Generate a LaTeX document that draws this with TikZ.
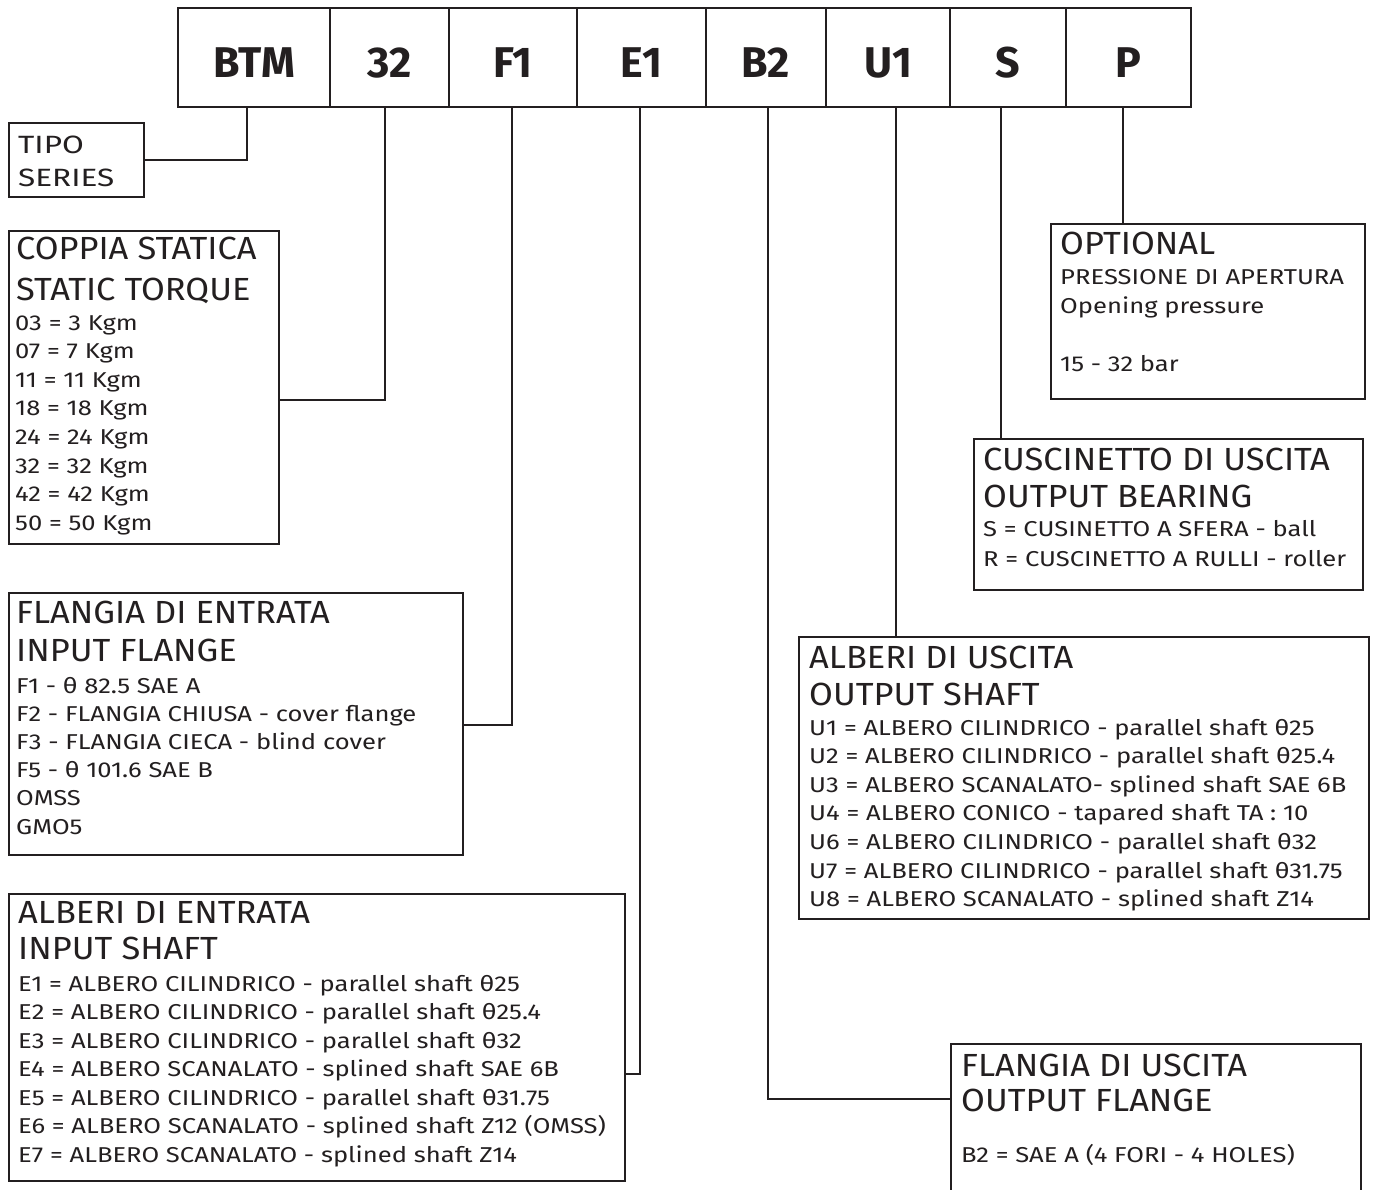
\documentclass[tikz,border=0pt]{standalone}
\usepackage{fontspec}
\usepackage{graphicx}
\setmainfont{Fira Sans}
\definecolor{ink}{HTML}{231F20}
\newcommand{\wideI}[1]{\scalebox{1.19}[1]{#1}}
\newcommand{\wideT}[1]{\scalebox{1.075}[1]{#1}}
\newcommand{\wideS}[1]{\scalebox{1.26}[1]{#1}}
\begin{document}
\begin{tikzpicture}[x=1pt,y=-1pt,
  box/.style={draw=ink, line width=2.2pt, inner sep=0pt, anchor=north west},
  topcell/.style={draw=ink, line width=2.6pt, inner sep=0pt, minimum height=99pt,
    text height=39pt, text depth=0pt, font=\fontsize{43}{43}\selectfont\bfseries, text=ink},
  wire/.style={draw=ink, line width=2pt},
  ttl/.style={anchor=base west, inner sep=0pt, text=ink, font=\fontsize{32}{32}\selectfont},
  itm/.style={anchor=base west, inner sep=0pt, text=ink, font=\fontsize{21.5}{21.5}\selectfont},
  tip/.style={anchor=base west, inner sep=0pt, text=ink, font=\fontsize{25}{25}\selectfont},
]
\useasboundingbox (0,0) rectangle (1376,1189);
\fill[white] (0,0) rectangle (1376,1189);

% top code cells
\node[topcell, minimum width=152pt] (btm) at (254,57.5) {BTM};
\node[topcell, minimum width=119pt] (n32) at (389.5,57.5) {32};
\node[topcell, minimum width=128pt] (f1) at (513,57.5) {F1};
\node[topcell, minimum width=129pt] (e1) at (641.5,57.5) {E1};
\node[topcell, minimum width=120pt] (b2) at (766,57.5) {B2};
\node[topcell, minimum width=124pt] (u1) at (888,57.5) {U1};
\node[topcell, minimum width=116pt] (s) at (1008,57.5) {S};
\node[topcell, minimum width=125pt] (p) at (1128.5,57.5) {P};

% description boxes
\node[box, minimum width=135pt, minimum height=74pt] (tipo) at (8,122) {};
\node[box, minimum width=270pt, minimum height=313pt] (coppia) at (8,230) {};
\node[box, minimum width=454pt, minimum height=262pt] (fle) at (8,592) {};
\node[box, minimum width=616pt, minimum height=287pt] (ale) at (8,893) {};
\node[box, minimum width=314pt, minimum height=175pt] (opt) at (1050,223) {};
\node[box, minimum width=389pt, minimum height=151pt] (cusc) at (973,438) {};
\node[box, minimum width=570pt, minimum height=282pt] (alu) at (798,636) {};
\node[box, minimum width=410pt, minimum height=170pt] (flu) at (950,1043) {};

% connectors
\draw[wire] (btm.south -| 247,0) |- (tipo.east);
\draw[wire] (n32.south -| 385,0) |- (coppia.east |- 0,400);
\draw[wire] (f1.south -| 512,0) |- (fle.east |- 0,725);
\draw[wire] (e1.south -| 640,0) |- (ale.east |- 0,1074);
\draw[wire] (b2.south -| 768,0) |- (flu.west |- 0,1099);
\draw[wire] (u1.south -| 896,0) -- (alu.north -| 896,0);
\draw[wire] (s.south -| 1001,0) -- (cusc.north -| 1001,0);
\draw[wire] (p.south -| 1123,0) -- (opt.north -| 1123,0);

% TIPO
\node[tip] (tipo1) at (18,153) {\wideS{TIPO}};
\node[tip] (tipo2) at (18,186) {\wideS{SERIES}};

% COPPIA STATICA
\node[ttl] (cop1) at (16,259.5) {\wideT{COPPIA STATICA}};
\node[ttl] (cop2) at (16,300.5) {\wideT{STATIC TORQUE}};
\foreach \t [count=\i from 0] in {03 = 3 Kgm, 07 = 7 Kgm, 11 = 11 Kgm, 18 = 18 Kgm,
  24 = 24 Kgm, 32 = 32 Kgm, 42 = 42 Kgm, 50 = 50 Kgm}
  \node[itm] (copi\i) at (15,330+28.6*\i) {\wideI{\t}};

% FLANGIA DI ENTRATA
\node[ttl] (fle1) at (16,623.5) {\wideT{FLANGIA DI ENTRATA}};
\node[ttl] (fle2) at (16,661.5) {\wideT{INPUT FLANGE}};
\foreach \t [count=\i from 0] in {F1 - θ 82.5 SAE A, F2 - FLANGIA CHIUSA - cover flange,
  F3 - FLANGIA CIECA - blind cover, F5 - θ 101.6 SAE B, OMSS, GMO5}
  \node[itm] (flei\i) at (16,693+28.2*\i) {\wideI{\t}};

% ALBERI DI ENTRATA
\node[ttl] (ale1) at (18,923.5) {\wideT{ALBERI DI ENTRATA}};
\node[ttl] (ale2) at (18,959.5) {\wideT{INPUT SHAFT}};
\foreach \t [count=\i from 0] in {E1 = ALBERO CILINDRICO - parallel shaft θ25,
  E2 = ALBERO CILINDRICO - parallel shaft θ25.4,
  E3 = ALBERO CILINDRICO - parallel shaft θ32,
  E4 = ALBERO SCANALATO - splined shaft SAE 6B,
  E5 = ALBERO CILINDRICO - parallel shaft θ31.75,
  E6 = ALBERO SCANALATO - splined shaft Z12 (OMSS),
  E7 = ALBERO SCANALATO - splined shaft Z14}
  \node[itm] (alei\i) at (18,991+28.5*\i) {\wideI{\t}};

% OPTIONAL
\node[ttl] (opt1) at (1060,254.5) {\wideT{OPTIONAL}};
\node[itm] (opt2) at (1060,284) {\wideI{PRESSIONE DI APERTURA}};
\node[itm] (opt3) at (1060,313) {\wideI{Opening pressure}};
\node[itm] (opt4) at (1060,371) {\wideI{15 - 32 bar}};

% CUSCINETTO
\node[ttl] (cus1) at (983,470.5) {\wideT{CUSCINETTO DI USCITA}};
\node[ttl] (cus2) at (983,507.5) {\wideT{OUTPUT BEARING}};
\node[itm] (cus3) at (983,536) {\wideI{S = CUSINETTO A SFERA - ball}};
\node[itm] (cus4) at (983,566) {\wideI{R = CUSCINETTO A RULLI - roller}};

% ALBERI DI USCITA
\node[ttl] (alu1) at (809,668.5) {\wideT{ALBERI DI USCITA}};
\node[ttl] (alu2) at (809,705.5) {\wideT{OUTPUT SHAFT}};
\foreach \t [count=\i from 0] in {U1 = ALBERO CILINDRICO - parallel shaft θ25,
  U2 = ALBERO CILINDRICO - parallel shaft θ25.4,
  U3 = ALBERO SCANALATO- splined shaft SAE 6B,
  U4 = ALBERO CONICO - tapared shaft TA : 10,
  U6 = ALBERO CILINDRICO - parallel shaft θ32,
  U7 = ALBERO CILINDRICO - parallel shaft θ31.75,
  U8 = ALBERO SCANALATO - splined shaft Z14}
  \node[itm] (alui\i) at (809,735+28.6*\i) {\wideI{\t}};

% FLANGIA DI USCITA
\node[ttl] (flu1) at (961,1076.5) {\wideT{FLANGIA DI USCITA}};
\node[ttl] (flu2) at (961,1111.5) {\wideT{OUTPUT FLANGE}};
\node[itm] (flu3) at (961,1162) {\wideI{B2 = SAE A (4 FORI - 4 HOLES)}};
\end{tikzpicture}
\end{document}
